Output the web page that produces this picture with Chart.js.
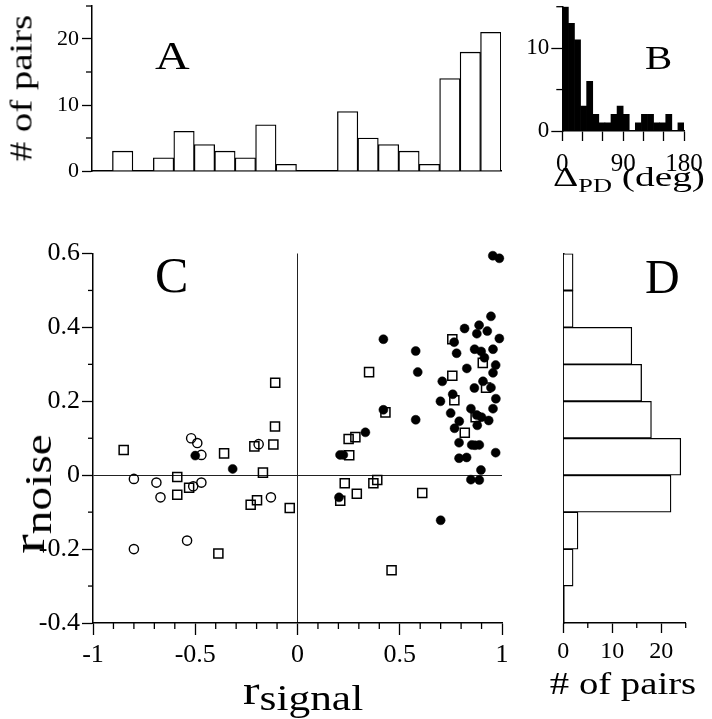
<!DOCTYPE html>
<html>
<head>
<meta charset="utf-8">
<title>Signal and noise correlations</title>
<script src="https://cdn.jsdelivr.net/npm/chart.js@4.4.1/dist/chart.umd.min.js"></script>
<style>
  html, body { margin: 0; padding: 0; background: #fff; }
  #fig { position: relative; width: 712px; height: 719px; overflow: hidden;
         font-family: "Liberation Serif", "Times New Roman", serif; color: #000; }
  .box { position: absolute; }
  .txt { position: absolute; white-space: nowrap; line-height: 1; }
  .sub { position: relative; }
</style>
</head>
<body>
<div id="fig">
  <div class="box" style="left:0;top:0"><canvas id="chartA" width="520" height="200"></canvas></div>
  <div class="box" style="left:500px;top:0"><canvas id="chartB" width="212" height="200"></canvas></div>
  <div class="box" style="left:0;top:230px"><canvas id="chartC" width="530" height="489"></canvas></div>
  <div class="box" style="left:520px;top:230px"><canvas id="chartD" width="192" height="489"></canvas></div>

  <!-- panel letters -->
  <div class="txt" style="left:155px;top:36px;font-size:40px;transform:scaleX(1.2);transform-origin:left">A</div>
  <div class="txt" style="left:645px;top:41px;font-size:34px;transform:scaleX(1.2);transform-origin:left">B</div>
  <div class="txt" style="left:155px;top:250px;font-size:50px">C</div>
  <div class="txt" style="left:645px;top:253px;font-size:48px">D</div>

  <!-- axis titles -->
  <div class="txt" style="left:21px;top:88px;font-size:31px;transform:translate(-50%,-50%) rotate(-90deg) scaleX(1.25)"># of pairs</div>
  <div class="txt" style="left:553px;top:164px;font-size:27px;transform:scaleX(1.46);transform-origin:left">&Delta;<span class="sub" style="font-size:18px;top:6px">PD</span> (deg)</div>
  <div class="txt" style="left:29px;top:494px;font-size:46px;transform:translate(-50%,-50%) rotate(-90deg) scaleX(1.28)">r<span class="sub" style="font-size:37px;top:7px">noise</span></div>
  <div class="txt" style="left:243px;top:671px;font-size:40px;transform:scaleX(1.24);transform-origin:left">r<span class="sub" style="font-size:35px;top:6px">signal</span></div>
  <div class="txt" style="left:623px;top:668px;font-size:31px;transform:translateX(-50%) scaleX(1.25)"># of pairs</div>
</div>

<script>
// ---- data ----
// A: distribution of signal correlations (bins of 0.1)
var signalBins = [-0.95, -0.85, -0.75, -0.65, -0.55, -0.45, -0.35, -0.25, -0.15, -0.05,
                  0.05, 0.15, 0.25, 0.35, 0.45, 0.55, 0.65, 0.75, 0.85, 0.95];
var signalCounts = [0, 3, 0, 2, 6, 4, 3, 2, 7, 1, 0, 0, 9, 5, 4, 3, 1, 14, 18, 21];
var countTicksA = ['0', '10', '20'];

// B: difference in preferred direction (bins of 9 deg)
var pdBins = [4.5, 13.5, 22.5, 31.5, 40.5, 49.5, 58.5, 67.5, 76.5, 85.5,
              94.5, 103.5, 112.5, 121.5, 130.5, 139.5, 148.5, 157.5, 166.5, 175.5];
var pdCounts = [15, 13, 11, 3, 6, 2, 1, 1, 2, 3, 2, 0, 1, 2, 2, 1, 1, 2, 0, 1];
var pdXTicks = ['0', '90', '180'];
var pdYTicks = ['0', '10'];

// C: r_noise vs r_signal, three groups of pairs
var openCircles = [
  [-0.80, -0.01], [-0.69, -0.02], [-0.67, -0.06], [-0.52, 0.10], [-0.49, 0.087],
  [-0.47, 0.055], [-0.51, -0.03], [-0.47, -0.02], [-0.19, 0.084], [-0.13, -0.06],
  [-0.80, -0.20], [-0.54, -0.177]
];
var openSquares = [
  [-0.85, 0.068], [-0.588, -0.005], [-0.588, -0.053], [-0.53, -0.034], [-0.359, 0.059],
  [-0.211, 0.078], [-0.118, 0.083], [-0.11, 0.132], [-0.109, 0.25], [-0.169, 0.007],
  [-0.229, -0.08], [-0.198, -0.068], [-0.038, -0.089], [-0.387, -0.212],
  [0.35, 0.279], [0.43, 0.17], [0.25, 0.098], [0.283, 0.103], [0.253, 0.054],
  [0.231, -0.022], [0.371, -0.022], [0.39, -0.013], [0.29, -0.05], [0.209, -0.069],
  [0.61, -0.048], [0.46, -0.257], [0.757, 0.368], [0.906, 0.304], [0.757, 0.269],
  [0.922, 0.237], [0.767, 0.203], [0.871, 0.157], [0.818, 0.115]
];
var filledCircles = [
  [0.955, 0.594], [0.987, 0.587], [0.946, 0.43], [0.888, 0.406], [0.817, 0.397],
  [0.928, 0.39], [0.877, 0.383], [0.987, 0.37], [0.766, 0.36], [0.866, 0.341],
  [0.898, 0.335], [0.956, 0.341], [0.778, 0.33], [0.914, 0.318], [0.969, 0.298],
  [0.956, 0.277], [0.828, 0.289], [0.708, 0.254], [0.907, 0.254], [0.865, 0.236],
  [0.946, 0.237], [0.759, 0.219], [0.970, 0.207], [0.699, 0.20], [0.848, 0.18],
  [0.956, 0.18], [0.749, 0.168], [0.876, 0.163], [0.90, 0.157], [0.935, 0.148],
  [0.791, 0.146], [0.768, 0.127], [0.879, 0.135], [0.79, 0.088], [0.852, 0.082],
  [0.868, 0.081], [0.889, 0.082], [0.969, 0.061], [0.79, 0.046], [0.827, 0.048],
  [0.897, 0.014], [0.848, -0.012], [0.889, -0.013], [0.70, -0.122],
  [0.42, 0.368], [0.578, 0.336], [0.588, 0.279], [0.42, 0.177], [0.578, 0.15],
  [0.332, 0.116], [0.208, 0.055], [0.224, 0.055], [0.203, -0.06],
  [-0.50, 0.053], [-0.317, 0.017]
];
var signalTicks = ['-1', '-0.5', '0', '0.5', '1'];
var noiseTicks = ['-0.4', '-0.2', '0', '0.2', '0.4', '0.6'];

// D: distribution of noise correlations (bins of 0.1)
var noiseBins = [0.55, 0.45, 0.35, 0.25, 0.15, 0.05, -0.05, -0.15, -0.25, -0.35];
var noiseCounts = [2, 2, 14, 16, 18, 24, 22, 3, 2, 0];
var countTicksD = ['0', '10', '20'];

// ---- helpers ----
Chart.defaults.font.family = '"Liberation Serif", "Times New Roman", serif';
Chart.defaults.color = '#000';

// fixes the axis box so the plot area lands where the figure has it
function fixBox(size) {
  return function (scale) {
    if (scale.isHorizontal()) scale.height = size; else scale.width = size;
    scale.paddingTop = scale.paddingBottom = scale.paddingLeft = scale.paddingRight = 0;
  };
}
function majorEvery(n) {
  return function (c) { return c.index % n === 0 ? '#000' : 'rgba(0,0,0,0)'; };
}
function labelsEvery(n, labels) {
  return function (v, i) { return i % n === 0 ? labels[i / n] : ''; };
}

// short ticks between the labelled ones
var minorConf = {
  chartA: { y: { every: 2, len: 6 } },
  chartB: { y: { every: 2, len: 6 } },
  chartC: { x: { every: 5, len: 6 }, y: { every: 2, len: 5 } },
  chartD: { x: { every: 2, len: 5 } }
};
var minorTicks = {
  id: 'minorTicks',
  afterDraw: function (chart) {
    var conf = minorConf[chart.canvas.id] || {};
    var ctx = chart.ctx;
    ctx.save();
    ctx.strokeStyle = '#000';
    ctx.lineWidth = 1.3;
    Object.keys(conf).forEach(function (id) {
      var s = chart.scales[id];
      s.ticks.forEach(function (t, i) {
        if (i % conf[id].every === 0) return;
        var p = s.getPixelForTick(i);
        ctx.beginPath();
        if (s.isHorizontal()) { ctx.moveTo(p, s.top); ctx.lineTo(p, s.top + conf[id].len); }
        else { ctx.moveTo(s.right - conf[id].len, p); ctx.lineTo(s.right, p); }
        ctx.stroke();
      });
    });
    ctx.restore();
  }
};

var common = {
  responsive: false,
  animation: false,
  events: [],
  plugins: { legend: { display: false }, tooltip: { enabled: false } }
};
var axisBorder = { color: '#000', width: 1.5 };

// ---- A ----
new Chart(document.getElementById('chartA'), {
  type: 'bar',
  data: {
    datasets: [{
      data: signalBins.map(function (c, i) { return { x: c, y: signalCounts[i] }; }),
      backgroundColor: '#fff', borderColor: '#000', borderWidth: 1.3,
      barPercentage: 1, categoryPercentage: 1
    }]
  },
  options: Object.assign({}, common, {
    layout: { padding: { top: 6, right: 19, left: 0, bottom: 0 } },
    scales: {
      x: { type: 'linear', min: -1, max: 1, offset: false,
           ticks: { display: false }, grid: { display: false, offset: false },
           border: axisBorder, afterFit: fixBox(29) },
      y: { type: 'linear', min: 0, max: 25,
           ticks: { stepSize: 5, autoSkip: false, padding: 3, font: { size: 22 },
                    callback: labelsEvery(2, countTicksA) },
           grid: { drawOnChartArea: false, tickLength: 10, tickWidth: 1.3, tickColor: majorEvery(2) },
           border: axisBorder, afterFit: fixBox(92) }
    }
  }),
  plugins: [minorTicks]
});

// ---- B ----
new Chart(document.getElementById('chartB'), {
  type: 'bar',
  data: {
    datasets: [{
      data: pdBins.map(function (c, i) { return { x: c, y: pdCounts[i] }; }),
      backgroundColor: '#000', borderWidth: 0,
      barPercentage: 1, categoryPercentage: 1
    }]
  },
  options: Object.assign({}, common, {
    layout: { padding: { top: 6.7, right: 28, left: 0, bottom: 0 } },
    scales: {
      x: { type: 'linear', min: 0, max: 180, offset: false,
           ticks: { stepSize: 30, autoSkip: false, maxRotation: 0, padding: 8, font: { size: 25 },
                    callback: labelsEvery(3, pdXTicks) },
           grid: { drawOnChartArea: false, offset: false, tickLength: 10, tickWidth: 1.3, tickColor: '#000' },
           border: axisBorder, afterFit: fixBox(69) },
      y: { type: 'linear', min: 0, max: 15,
           ticks: { stepSize: 5, autoSkip: false, padding: 2, font: { size: 23 },
                    callback: labelsEvery(2, pdYTicks) },
           grid: { drawOnChartArea: false, tickLength: 11, tickWidth: 1.3, tickColor: majorEvery(2) },
           border: axisBorder, afterFit: fixBox(62.3) }
    }
  }),
  plugins: [minorTicks]
});

// ---- C ----
function pts(list) { return list.map(function (p) { return { x: p[0], y: p[1] }; }); }
new Chart(document.getElementById('chartC'), {
  type: 'scatter',
  data: {
    datasets: [
      { data: pts(openSquares), pointStyle: 'rect', pointRadius: 6.4, clip: false,
        borderColor: '#000', borderWidth: 1.5, backgroundColor: 'rgba(0,0,0,0)' },
      { data: pts(openCircles), pointStyle: 'circle', pointRadius: 4.6, clip: false,
        borderColor: '#000', borderWidth: 1.4, backgroundColor: 'rgba(0,0,0,0)' },
      { data: pts(filledCircles), pointStyle: 'circle', pointRadius: 4.5, clip: false,
        borderColor: '#000', borderWidth: 0.5, backgroundColor: '#000' }
    ]
  },
  options: Object.assign({}, common, {
    layout: { padding: { top: 23.5, right: 28, left: 0, bottom: 0 } },
    scales: {
      x: { type: 'linear', min: -1, max: 1,
           ticks: { stepSize: 0.1, autoSkip: false, maxRotation: 0, padding: 5, font: { size: 26 },
                    callback: labelsEvery(5, signalTicks) },
           grid: { color: function (c) { return Math.abs(c.tick.value) < 1e-9 ? '#222' : 'rgba(0,0,0,0)'; },
                   lineWidth: 1, tickLength: 12, tickWidth: 1.3, tickColor: majorEvery(5) },
           border: axisBorder, afterFit: fixBox(96) },
      y: { type: 'linear', min: -0.4, max: 0.6,
           ticks: { stepSize: 0.1, autoSkip: false, padding: 2, font: { size: 26 },
                    callback: labelsEvery(2, noiseTicks) },
           grid: { color: function (c) { return Math.abs(c.tick.value) < 1e-9 ? '#222' : 'rgba(0,0,0,0)'; },
                   lineWidth: 1, tickLength: 11, tickWidth: 1.3, tickColor: majorEvery(2) },
           border: axisBorder, afterFit: fixBox(93) }
    }
  }),
  plugins: [minorTicks]
});

// ---- D ----
new Chart(document.getElementById('chartD'), {
  type: 'bar',
  data: {
    datasets: [{
      data: noiseBins.map(function (c, i) { return { x: noiseCounts[i], y: c }; }),
      backgroundColor: '#fff', borderColor: '#000', borderWidth: 1.3,
      barPercentage: 1, categoryPercentage: 1
    }]
  },
  options: Object.assign({}, common, {
    indexAxis: 'y',
    layout: { padding: { top: 23.5, right: 26.3, left: 0, bottom: 0 } },
    scales: {
      x: { type: 'linear', min: 0, max: 25,
           ticks: { stepSize: 5, autoSkip: false, maxRotation: 0, padding: 4, font: { size: 24 },
                    callback: labelsEvery(2, countTicksD) },
           grid: { drawOnChartArea: false, tickLength: 10, tickWidth: 1.3, tickColor: majorEvery(2) },
           border: axisBorder, afterFit: fixBox(96) },
      y: { type: 'linear', min: -0.4, max: 0.6, offset: false,
           ticks: { stepSize: 0.1, display: false },
           grid: { drawOnChartArea: false, drawTicks: false, offset: false },
           border: axisBorder, afterFit: fixBox(43.3) }
    }
  }),
  plugins: [minorTicks]
});
</script>
</body>
</html>
